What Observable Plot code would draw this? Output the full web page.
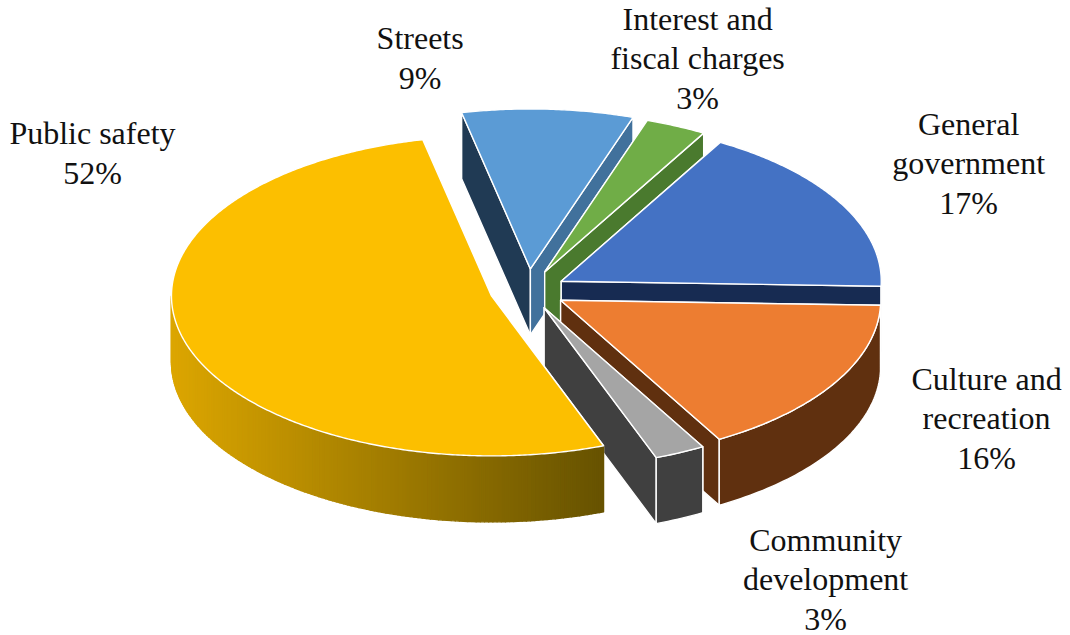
<!DOCTYPE html>
<html><head><meta charset="utf-8">
<script src="https://cdn.jsdelivr.net/npm/d3@7"></script>
<script src="https://cdn.jsdelivr.net/npm/@observablehq/plot@0.6"></script>
<style>html,body{margin:0;padding:0;background:#fff}svg{display:block}</style>
</head><body><div id="chart"></div>
<script>
// clockwise from the left edge of "Streets"
const categories = ["Streets","Interest and\nfiscal charges","General\ngovernment","Culture and\nrecreation","Community\ndevelopment","Public safety"];
const percentLabels = [9,3,17,16,3,52];
const shares = [8.64,3.08,17.22,16.25,2.56,52.25]; // slice sizes
const explodeBy = [0.135,0.127,0.119,0.119,0.119,0.119];
const topColors = ["#5B9BD5","#70AD47","#4472C4","#ED7D31","#A5A5A5","#FCBF00"];
const startFaceColors = ["#203A54","#4A7A2E","#2F5597","#60300F","#404040","#B08600"];
const endFaceColors = ["#41719C","#4A7A2E","#172B52","#60300F","#404040","#B08600"];
const wallColors = ["#41719C","#4A7A2E","#172B52","#60300F","#404040",null];
const wallGradient = ["#DCA600","#665200"];
const labelX = [-0.337,0.530,1.377,1.433,0.930,-1.361];
const labelY = [1.463,1.4625,0.805,-0.7875,-1.794,0.869];

const cx = 527.5, cy = 290, rx = 320, ry = 160;
const firstAngle = -12.4, depth = 66/ry;
const rad = d => d*Math.PI/180;
const total = d3.sum(shares);
let acc = firstAngle;
const slices = categories.map((name,i)=>{
  const a0 = acc, a1 = acc + shares[i]/total*360; acc = a1;
  const mid = rad((a0+a1)/2);
  return {i,name,a0,a1,ax:explodeBy[i]*Math.sin(mid),ay:explodeBy[i]*Math.cos(mid)};
});
const rim = (s,a)=>[s.ax+Math.sin(rad(a)), s.ay+Math.cos(rad(a))];
const faces = [];
let fid = 0;
function face(pts,fill,stroke){ const id = fid++;
  [...pts,pts[0]].forEach(p=>faces.push({x:p[0],y:p[1],id,fill,stroke}));
}
const t0 = (171-cx)/rx, t1 = (603-cx)/rx;
const grad = d3.interpolateRgb(wallGradient[0],wallGradient[1]);
for(const s of slices){
  const lo = [s.ax,s.ay], drop = p=>[p[0],p[1]-depth];
  const pa = rim(s,s.a0), pb = rim(s,s.a1);
  face([lo,pa,drop(pa),drop(lo)],startFaceColors[s.i],"#fff");
  face([lo,pb,drop(pb),drop(lo)],endFaceColors[s.i],"#fff");
  const arcAngles = (u,v,step=1)=>{const o=d3.range(u,v,step);o.push(v);return o;};
  // outer wall: only the front half of the rim shows (90°..270°)
  const wa = Math.max(s.a0,90), wb = Math.min(s.a1,270);
  if(wb>wa){
    if(wallColors[s.i]){
      const up = arcAngles(wa,wb).map(a=>rim(s,a));
      face([...up,...up.slice().reverse().map(drop)],wallColors[s.i],"#fff");
    } else {
      const ang = arcAngles(wa,wb,0.75);
      for(let k=0;k<ang.length-1;k++){
        const p=rim(s,ang[k]), q=rim(s,ang[k+1]);
        const c=grad(Math.max(0,Math.min(1,((p[0]+q[0])/2-t0)/(t1-t0))));
        face([p,q,drop(q),drop(p)],c,c);
      }
    }
  }
  face([lo,...arcAngles(s.a0,s.a1,0.5).map(a=>rim(s,a))],topColors[s.i],"#fff");
}
const labels = categories.map((c,i)=>({x:labelX[i],y:labelY[i],text:`${c}\n${percentLabels[i]}%`}));

document.getElementById("chart").append(Plot.plot({
  width:1070,height:635,margin:0,
  x:{domain:[-cx/rx,(1070-cx)/rx],axis:null},
  y:{domain:[(cy-635)/ry,cy/ry],axis:null},
  color:{type:"identity"},
  marks:[
    Plot.line(faces,{x:"x",y:"y",z:"id",fill:"fill",stroke:"stroke",strokeWidth:1.4,curve:"linear",strokeLinejoin:"round"}),
    Plot.text(labels,{x:"x",y:"y",text:"text",fontSize:32,lineHeight:1.24,fontFamily:"Liberation Serif",fill:"#111"})
  ]
}));
</script></body></html>
